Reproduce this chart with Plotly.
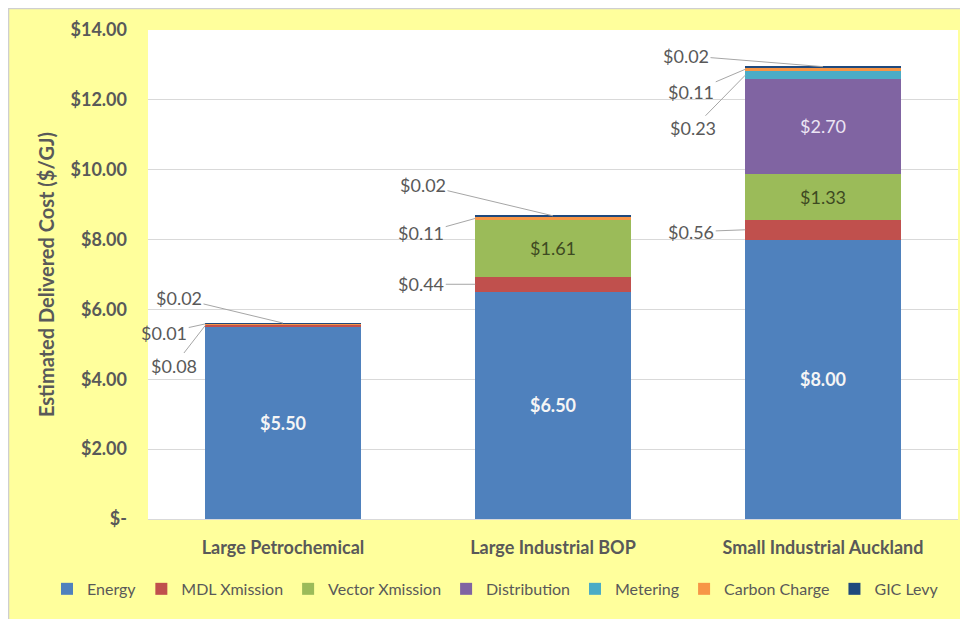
import plotly.graph_objects as go

categories = ["Large Petrochemical", "Large Industrial BOP", "Small Industrial Auckland"]
series_names = ["Energy", "MDL Xmission", "Vector Xmission", "Distribution", "Metering", "Carbon Charge", "GIC Levy"]
energy = [5.50, 6.50, 8.00]
mdl_xmission = [0.08, 0.44, 0.56]
vector_xmission = [0.00, 1.61, 1.33]
distribution = [0.00, 0.00, 2.70]
metering = [0.00, 0.00, 0.23]
carbon_charge = [0.01, 0.11, 0.11]
gic_levy = [0.02, 0.02, 0.02]
y_tick_values = [0, 2, 4, 6, 8, 10, 12, 14]
y_tick_labels = ["$-", "$2.00", "$4.00", "$6.00", "$8.00", "$10.00", "$12.00", "$14.00"]

colors = ["#4f81bd", "#c0504d", "#9bbb59", "#8064a2", "#4bacc6", "#f79646", "#1f497d"]
series = [energy, mdl_xmission, vector_xmission, distribution, metering, carbon_charge, gic_levy]
inside_label = {0: ("#f5f5f5", True), 2: ("#3e4a22", False), 3: ("#ece4f4", False)}

FONT = "Lato, Open Sans, sans-serif"
GREY = "#595959"
BAR_W = 0.576
xs = list(range(len(categories)))

fig = go.Figure()
for si, (name, vals, col) in enumerate(zip(series_names, series, colors)):
    kw = {}
    if si in inside_label:
        tcol, bold = inside_label[si]
        txt = [(f"<b>${v:.2f}</b>" if bold else f"${v:.2f}") if v > 0 else "" for v in vals]
        kw = dict(text=txt, textposition="inside", insidetextanchor="middle",
                  textfont=dict(family=FONT, size=18, color=tcol), textangle=0)
    fig.add_trace(go.Bar(x=xs, y=vals, name=name, marker=dict(color=col, line=dict(width=0)),
                         width=BAR_W, **kw))

def base_of(si, ci):
    return sum(series[k][ci] for k in range(si))

def mid_of(si, ci):
    return base_of(si, ci) + series[si][ci] / 2

def top_of(ci):
    return sum(s[ci] for s in series)

# outside labels: (series index, category index, anchor, ax, ay)
callouts = [
    (6, 0, "top", -104, -25), (5, 0, "left", -41, 9), (1, 0, "left", -31, 40),
    (6, 1, "top", -130, -31), (5, 1, "left", -54, 15), (1, 1, "left", -54, 0),
    (6, 2, "top", -137, -11), (5, 2, "left", -54, 23), (4, 2, "left", -52, 53), (1, 2, "left", -54, 2),
]
for si, ci, anchor, ax, ay in callouts:
    if anchor == "top":
        tx, ty = xs[ci], top_of(ci)
    else:
        tx, ty = xs[ci] - BAR_W / 2, mid_of(si, ci)
    fig.add_annotation(x=tx, y=ty, xref="x", yref="y", text=f"${series[si][ci]:.2f}",
                       showarrow=True, arrowhead=0, arrowwidth=1, arrowcolor="#a6a6a6",
                       ax=ax, ay=ay, font=dict(family=FONT, size=18, color=GREY))

# thin grey border along the top and left edges of the chart box
fig.add_shape(type="line", xref="paper", yref="paper", x0=-0.1728, x1=1.03, y0=1.044, y1=1.044,
              line=dict(color="#cfcfcf", width=1.5))
fig.add_shape(type="line", xref="paper", yref="paper", x0=-0.1722, x1=-0.1722, y0=-0.23, y1=1.045,
              line=dict(color="#cfcfcf", width=1.5))

fig.update_layout(
    width=968, height=619, barmode="stack",
    paper_bgcolor="#ffff9c", plot_bgcolor="white",
    margin=dict(l=140, r=18, t=22, b=108, autoexpand=False),
    font=dict(family=FONT, color=GREY),
    showlegend=True,
    legend=dict(orientation="h", x=-0.1247, xanchor="left", y=-0.143, yanchor="middle",
                font=dict(family=FONT, size=16, color=GREY), bgcolor="rgba(0,0,0,0)",
                traceorder="normal", itemwidth=30),
    xaxis=dict(tickvals=xs, ticktext=[f"<b>{c}</b>" for c in categories], range=[-0.5, 2.5],
               showgrid=False, showline=True, linecolor="#d9d9d9", ticks="", automargin=False,
               tickfont=dict(family=FONT, size=18, color=GREY), ticklabelstandoff=12, fixedrange=True),
    yaxis=dict(range=[0, 14], tickvals=y_tick_values, ticktext=[f"<b>{t}</b>" for t in y_tick_labels],
               showgrid=True, gridcolor="#d9d9d9", gridwidth=1, zeroline=False, ticks="", automargin=False,
               tickfont=dict(family=FONT, size=18, color=GREY), ticklabelstandoff=20,
               title=dict(text="<b>Estimated Delivered Cost ($/GJ)</b>", standoff=10,
                          font=dict(family=FONT, size=20, color=GREY))),
)

fig.write_html("out.html")
